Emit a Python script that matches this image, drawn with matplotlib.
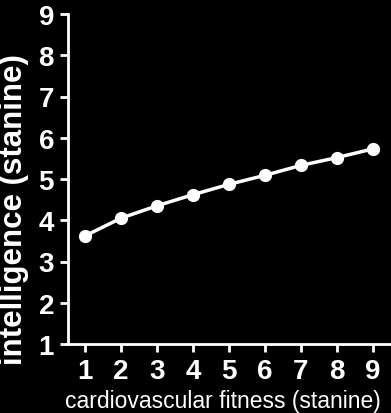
import matplotlib
matplotlib.use("Agg")
import matplotlib.pyplot as plt

plt.rcParams['font.family'] = ['Liberation Sans', 'DejaVu Sans']

# --- data ---
fitness = [1, 2, 3, 4, 5, 6, 7, 8, 9]
intelligence = [3.62, 4.05, 4.35, 4.62, 4.87, 5.09, 5.33, 5.52, 5.73]
x_ticks = [1, 2, 3, 4, 5, 6, 7, 8, 9]
y_ticks = [1, 2, 3, 4, 5, 6, 7, 8, 9]

W, H = 391, 414
fig = plt.figure(figsize=(W / 100, H / 100), dpi=100, facecolor='black')
ax = fig.add_axes([68 / W, 1 - 345 / H, (391 - 68) / W, (345 - 15) / H], facecolor='black')

ax.plot(fitness, intelligence, color='white', lw=2.5, marker='o', ms=8.5,
        markerfacecolor='white', markeredgecolor='white', clip_on=False)

ax.set_xlim(0.53, 9.5)
ax.set_ylim(1, 9)
ax.set_xticks(x_ticks)
ax.set_yticks(y_ticks)

for side in ['top', 'right']:
    ax.spines[side].set_visible(False)
for side in ['left', 'bottom']:
    ax.spines[side].set_color('white')
    ax.spines[side].set_linewidth(2)

ax.tick_params(colors='white', width=2, length=6, direction='out', pad=4)
for lab in ax.get_xticklabels() + ax.get_yticklabels():
    lab.set_fontsize(20)
    lab.set_fontweight('bold')
    lab.set_color('white')

ax.set_xlabel('cardiovascular fitness (stanine)', color='white', fontsize=16.5)
ax.xaxis.set_label_coords(0.48, -0.135)
ax.set_ylabel('intelligence (stanine)', color='white', fontsize=22.5, fontweight='bold')
ax.yaxis.set_label_coords(-0.12, 0.41)

fig.savefig('out.png', dpi=100, facecolor='black')
